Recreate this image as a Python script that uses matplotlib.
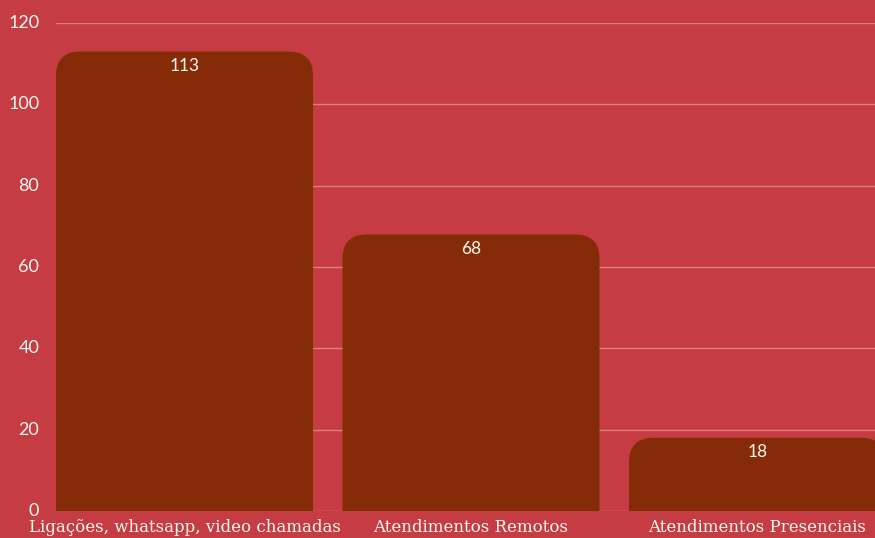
import matplotlib.pyplot as plt
from matplotlib.path import Path
from matplotlib.patches import PathPatch

categories = ['Ligações, whatsapp, video chamadas', 'Atendimentos Remotos', 'Atendimentos Presenciais']
values = [113, 68, 18]

bg = '#c53c43'
bar_color = '#862b08'
text_color = '#fff8f0'

fig = plt.figure(figsize=(8.75, 5.38), dpi=100, facecolor=bg)
ax = fig.add_axes([56 / 875, 27 / 538, 1 - 56 / 875, (511 - 23) / 538])
ax.set_facecolor(bg)

width = 0.897
bars = ax.bar(range(len(values)), values, width=width, color=bar_color, zorder=2)


def rounded_top(x0, w, h, rx, ry):
    verts = [(x0, 0), (x0, h - ry), (x0, h), (x0 + rx, h),
             (x0 + w - rx, h), (x0 + w, h), (x0 + w, h - ry),
             (x0 + w, 0), (x0, 0)]
    codes = [Path.MOVETO, Path.LINETO, Path.CURVE3, Path.CURVE3,
             Path.LINETO, Path.CURVE3, Path.CURVE3, Path.LINETO, Path.CLOSEPOLY]
    return Path(verts, codes)


# swap the plain bars for ones with rounded top corners
for b in bars:
    b.set_visible(False)
    p = rounded_top(b.get_x(), b.get_width(), b.get_height(), 0.085, 6.0)
    ax.add_patch(PathPatch(p, facecolor=bar_color, edgecolor='none', zorder=2))
    ax.text(b.get_x() + b.get_width() / 2, b.get_height() - 3.5, str(int(b.get_height())),
            ha='center', va='center', color=text_color, fontsize=12.5, family='Lato', zorder=3)

ax.set_xlim(-width / 2, 2.41)
ax.set_ylim(0, 120)
ax.set_yticks([0, 20, 40, 60, 80, 100, 120])
ax.grid(axis='y', color='#dc7f82', linewidth=1, zorder=0)
ax.set_axisbelow(True)
for s in ax.spines.values():
    s.set_visible(False)

ax.set_xticks(range(len(categories)))
ax.set_xticklabels(categories, family='DejaVu Serif', fontsize=12, color=text_color)
ax.tick_params(axis='x', length=0, pad=6)
ax.tick_params(axis='y', length=0, pad=12, labelcolor=text_color, labelsize=13)
for lab in ax.get_yticklabels():
    lab.set_family('Lato')
    lab.set_va('center')

fig.savefig('out.png', dpi=100, facecolor=bg)
